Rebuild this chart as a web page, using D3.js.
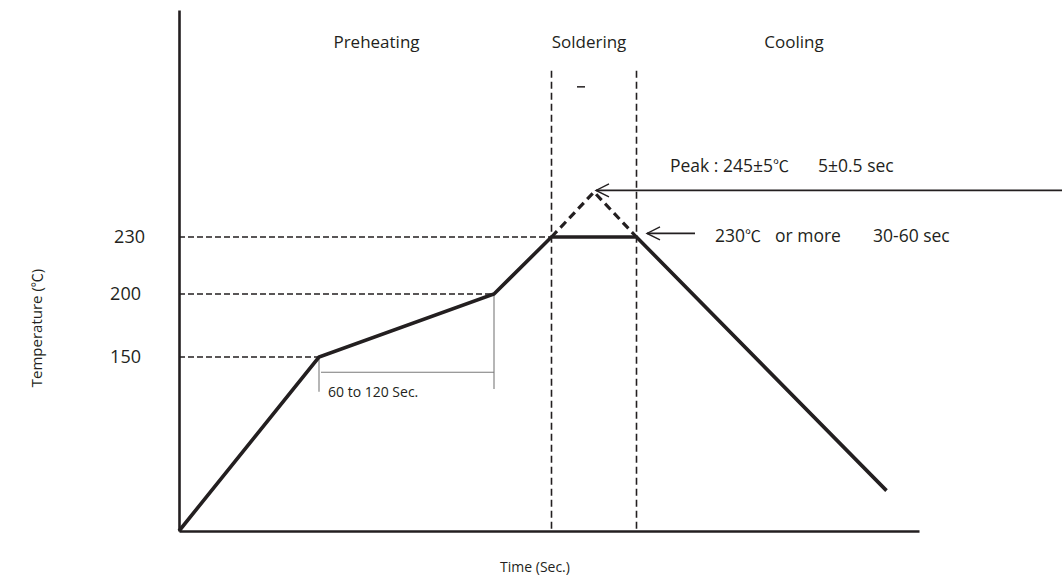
<!DOCTYPE html>
<html>
<head>
<meta charset="utf-8">
<script src="https://cdn.jsdelivr.net/npm/d3@7"></script>
<style>
  html, body { margin: 0; padding: 0; background: #fff; }
  svg { display: block; }
  text { font-family: "Open Sans", "Noto Sans", "Noto Sans CJK SC", sans-serif; fill: #231f20; }
  .cjk { font-family: "Noto Sans CJK SC", sans-serif; }
</style>
</head>
<body>
<svg id="chart" width="1062" height="588"></svg>
<script>
// ---- data ----
const profileTime = [0, 56, 126, 149, 183, 283];
const profileTemp = [25, 150, 200, 230, 230, 54];
const peakTime = [149, 166, 183];
const peakTemp = [230, 245, 230];
const tempTicks = [150, 200, 230];
const tickTimes = [56, 126, 149];          // where the level guides end
const zoneTimes = [149, 183];              // soldering zone boundaries
const phaseNames = ["Preheating", "Soldering", "Cooling"];
const phaseTimes = [79, 164, 246];
const preheatSpan = [56, 126];
const preheatLabel = "60 to 120 Sec.";
const xTitle = "Time (Sec.)";
const yTitle = "Temperature (";
const degC = "℃";

// ---- scales ----
const svg = d3.select("#chart");
const x = d3.scaleLinear().domain([0, 296]).range([179, 919]);
// schematic (piecewise) temperature axis
const y = d3.scaleLinear().domain([25, 150, 200, 230, 245, 290]).range([531, 357, 294, 237, 192, 10]);
const ink = "#231f20";

// axes
const yAxis = d3.axisLeft(y).tickValues(tempTicks).tickSize(0).tickPadding(38).tickFormat(d3.format("d"));
const gy = svg.append("g").attr("transform", `translate(${x(0)},0)`).call(yAxis);
gy.select(".domain").attr("stroke", ink).attr("stroke-width", 2.6);
gy.selectAll(".tick text").attr("font-size", 18).attr("fill", ink)
  .attr("font-family", "Open Sans, sans-serif")
  .attr("dx", d => d === 230 ? 4 : 0);

const xAxis = d3.axisBottom(x).tickValues([]).tickSizeOuter(0);
const gx = svg.append("g").attr("transform", `translate(0,${y(25)})`).call(xAxis);
gx.select(".domain").attr("stroke", ink).attr("stroke-width", 2.6);

// horizontal level guides
svg.append("g").selectAll("line").data(tempTicks).join("line")
  .attr("x1", x(0)).attr("x2", (d, i) => x(tickTimes[i]))
  .attr("y1", d => y(d)).attr("y2", d => y(d))
  .attr("stroke", ink).attr("stroke-width", 1.6).attr("stroke-dasharray", "6,3");

// soldering zone verticals
svg.append("g").selectAll("line").data(zoneTimes).join("line")
  .attr("x1", d => x(d)).attr("x2", d => x(d))
  .attr("y1", y(275)).attr("y2", y(25))
  .attr("stroke", ink).attr("stroke-width", 1.6).attr("stroke-dasharray", "7,4");

// small tick near top of soldering zone
svg.append("line").attr("x1", x(159.2)).attr("x2", x(162.4)).attr("y1", y(271)).attr("y2", y(271))
  .attr("stroke", ink).attr("stroke-width", 1.5);

// preheat bracket
const bracket = svg.append("g").attr("stroke", "#7a7a7a").attr("stroke-width", 1.1).attr("fill", "none");
bracket.append("line").attr("x1", x(preheatSpan[0])).attr("x2", x(preheatSpan[0]))
  .attr("y1", y(150)).attr("y2", y(125));
bracket.append("line").attr("x1", x(preheatSpan[1])).attr("x2", x(preheatSpan[1]))
  .attr("y1", y(200)).attr("y2", y(127));
bracket.append("line").attr("x1", x(preheatSpan[0]) + 2).attr("x2", x(preheatSpan[1]))
  .attr("y1", y(139)).attr("y2", y(139));
svg.append("text").attr("x", x(preheatSpan[0]) + 9).attr("y", y(124) + 4)
  .attr("font-size", 14).text(preheatLabel);

// peak dashed
const line = d3.line().x(d => x(d[0])).y(d => y(d[1]));
svg.append("path").datum(d3.zip(peakTime, peakTemp)).attr("d", line)
  .attr("fill", "none").attr("stroke", ink).attr("stroke-width", 3.2)
  .attr("stroke-dasharray", "8,5").attr("stroke-linejoin", "miter");

// main profile
svg.append("path").datum(d3.zip(profileTime, profileTemp)).attr("d", line)
  .attr("fill", "none").attr("stroke", ink).attr("stroke-width", 3.6)
  .attr("stroke-linejoin", "miter");

// arrows
function arrow(t1, t2, temp) {
  const xt = x(t1), xe = x(t2), yy = y(temp);
  svg.append("line").attr("x1", xt).attr("x2", xe).attr("y1", yy).attr("y2", yy)
    .attr("stroke", ink).attr("stroke-width", 1.6);
  svg.append("path").attr("d", `M${xt + 13},${yy - 6.5}L${xt},${yy}L${xt + 13},${yy + 6.5}`)
    .attr("fill", "none").attr("stroke", ink).attr("stroke-width", 1.4);
}
arrow(166.8, 354, 245.4);
arrow(187.2, 206.4, 231.2);

// notes (with CJK degree sign)
function note(xp, temp, parts) {
  const t = svg.append("text").attr("x", xp).attr("y", y(temp)).attr("font-size", 17.5);
  parts.forEach(p => {
    const s = t.append("tspan").text(p);
    if (p === degC) s.attr("class", "cjk").attr("font-size", 16);
  });
}
note(670, 250, ["Peak : 245±5", degC]);
note(818, 250, ["5±0.5 sec"]);
note(715, 227.3, ["230", degC]);
note(775, 227.3, ["or more"]);
note(873, 227.3, ["30-60 sec"]);

// phase labels
svg.append("g").selectAll("text").data(phaseNames).join("text")
  .attr("x", (d, i) => x(phaseTimes[i])).attr("y", 48)
  .attr("text-anchor", "middle").attr("font-size", 17).text(d => d);

// axis titles
svg.append("text").attr("x", (x(0) + x(296)) / 2 - 14).attr("y", 572)
  .attr("text-anchor", "middle").attr("font-size", 14).text(xTitle);
const yt = svg.append("text").attr("transform", `translate(42,${y(200) + 34}) rotate(-90)`)
  .attr("text-anchor", "middle").attr("font-size", 15);
yt.append("tspan").text(yTitle);
yt.append("tspan").attr("class", "cjk").attr("font-size", 14).text(degC);
yt.append("tspan").text(")");
</script>
</body>
</html>
